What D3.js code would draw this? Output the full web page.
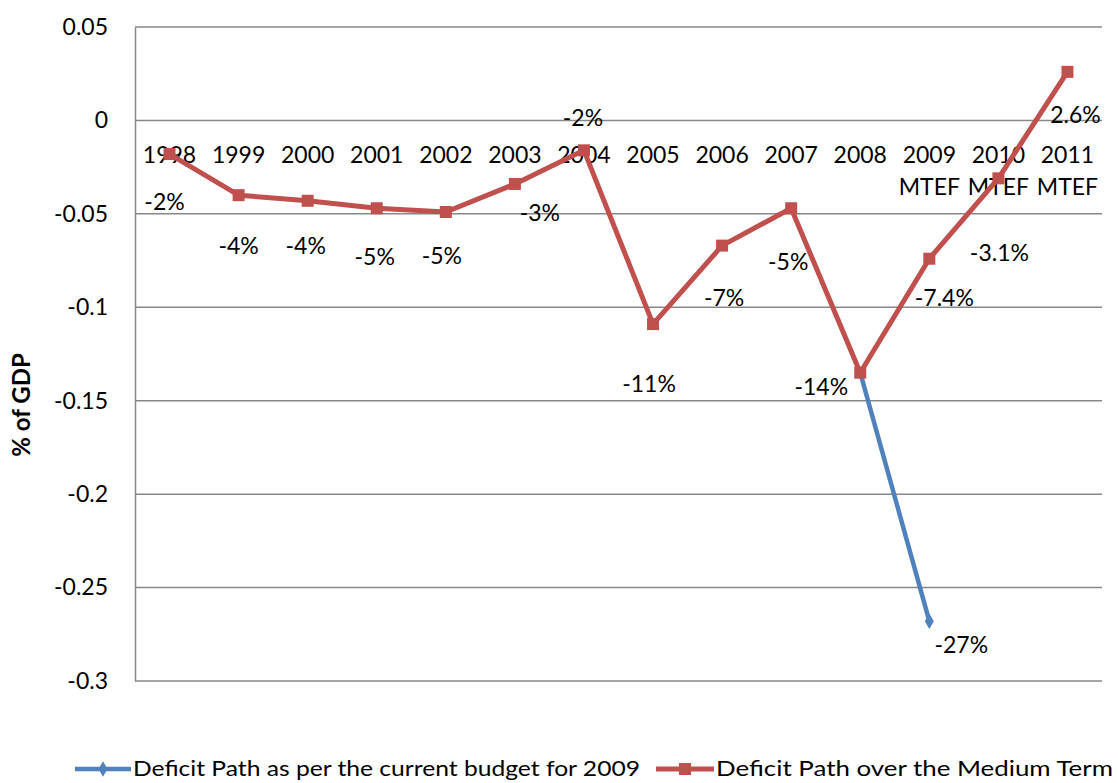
<!DOCTYPE html>
<html>
<head>
<meta charset="utf-8">
<script src="https://cdn.jsdelivr.net/npm/d3@7"></script>
<style>
  html, body { margin: 0; padding: 0; background: #fff; }
  svg { display: block; font-family: Lato, "Open Sans", sans-serif; }
</style>
</head>
<body>
<svg id="chart" width="1118" height="783"></svg>
<script>
// Fiscal deficit as a share of GDP
const years = ["1998","1999","2000","2001","2002","2003","2004","2005","2006","2007","2008","2009","2010","2011"];
const yearSublabels = ["","","","","","","","","","","","MTEF","MTEF","MTEF"];
const mediumTermValues = [-0.018,-0.040,-0.043,-0.047,-0.049,-0.034,-0.016,-0.109,-0.067,-0.047,-0.135,-0.074,-0.031,0.026];
const mediumTermLabels = ["-2%","-4%","-4%","-5%","-5%","-3%","-2%","-11%","-7%","-5%","-14%","-7.4%","-3.1%","2.6%"];
const budgetYears = ["2008","2009"];
const budgetValues = [-0.135,-0.268];
const budgetLabels = ["","-27%"];
const yTicks = [0.05,0,-0.05,-0.1,-0.15,-0.2,-0.25,-0.3];
const yTickLabels = ["0.05","0","-0.05","-0.1","-0.15","-0.2","-0.25","-0.3"];
const seriesNames = ["Deficit Path as per the current budget for 2009","Deficit Path over the Medium Term"];

// label nudges (dx, dy) relative to each point
const mediumTermLabelShift = [[-5,48],[0,51],[-2,45],[-2,49],[-4,44],[25,29],[-1,-32],[-4,60],[2,52],[-3,54],[-39,14],[15,39],[1,75],[8,43]];
const budgetLabelShift = [[0,0],[32,24]];

const RED = "#C0504D", BLUE = "#4F81BD", GRID = "#888888";
const FS = 23;
const svg = d3.select("#chart");
const plot = {left: 135, right: 1102, top: 27, bottom: 681};

const x = d3.scaleBand().domain(years).range([plot.left, plot.right]);
const y = d3.scaleLinear().domain([-0.3, 0.05]).range([plot.bottom, plot.top]);
const cx = d => x(d) + x.bandwidth() / 2;

// horizontal gridlines
svg.append("g").selectAll("line").data(yTicks).join("line")
  .attr("x1", plot.left).attr("x2", plot.right)
  .attr("y1", d => y(d)).attr("y2", d => y(d))
  .attr("stroke", GRID).attr("stroke-width", 1.5);

// value axis
const yAxis = svg.append("g").attr("transform", `translate(${plot.left},0)`)
  .call(d3.axisLeft(y).tickValues(yTicks).tickSize(0).tickPadding(27)
    .tickFormat((d, i) => yTickLabels[i]));
yAxis.select(".domain").attr("stroke", GRID).attr("stroke-width", 1.5);
yAxis.selectAll("text").attr("font-size", FS).attr("fill", "#000").attr("font-family", "Lato, sans-serif");

// category labels sit at the zero line
const cat = svg.append("g").selectAll("g").data(years).join("g");
cat.append("text").attr("x", d => cx(d)).attr("y", y(0) + 43)
  .attr("text-anchor", "middle").attr("font-size", FS).text(d => d);
cat.append("text").attr("x", d => cx(d)).attr("y", y(0) + 75)
  .attr("text-anchor", "middle").attr("font-size", FS).text((d, i) => yearSublabels[i]);

// axis title
svg.append("text").attr("transform", "translate(30,405) rotate(-90)")
  .attr("text-anchor", "middle").attr("font-size", 24).attr("font-weight", "bold")
  .text("% of GDP");

const line = d3.line().x(d => cx(d[0])).y(d => y(d[1]));

// medium term series
const mt = years.map((yr, i) => [yr, mediumTermValues[i]]);
svg.append("path").datum(mt).attr("d", line).attr("fill", "none")
  .attr("stroke", RED).attr("stroke-width", 5).attr("stroke-linejoin", "round");

// current budget series
const bd = budgetYears.map((yr, i) => [yr, budgetValues[i]]);
svg.append("path").datum(bd).attr("d", line).attr("fill", "none")
  .attr("stroke", BLUE).attr("stroke-width", 4.5);
svg.append("g").selectAll("path").data(bd.slice(1)).join("path")
  .attr("d", d3.symbol(d3.symbolDiamond, 70)())
  .attr("transform", d => `translate(${cx(d[0])},${y(d[1])})`).attr("fill", BLUE);

svg.append("g").selectAll("rect").data(mt).join("rect")
  .attr("x", d => cx(d[0]) - 6).attr("y", d => y(d[1]) - 6)
  .attr("width", 12).attr("height", 12).attr("fill", RED);

// data labels
svg.append("g").selectAll("text").data(mt).join("text")
  .attr("x", (d, i) => cx(d[0]) + mediumTermLabelShift[i][0])
  .attr("y", (d, i) => y(d[1]) + mediumTermLabelShift[i][1])
  .attr("dy", "0.35em").attr("text-anchor", "middle").attr("font-size", FS)
  .text((d, i) => mediumTermLabels[i]);
svg.append("g").selectAll("text").data(bd).join("text")
  .attr("x", (d, i) => cx(d[0]) + budgetLabelShift[i][0])
  .attr("y", (d, i) => y(d[1]) + budgetLabelShift[i][1])
  .attr("dy", "0.35em").attr("text-anchor", "middle").attr("font-size", FS)
  .text((d, i) => budgetLabels[i]);

// legend
const legend = svg.append("g").attr("transform", "translate(0,769)");
const lg1 = legend.append("g").attr("transform", "translate(75,0)");
lg1.append("line").attr("x1", 0).attr("x2", 56).attr("stroke", BLUE).attr("stroke-width", 4.5);
lg1.append("path").attr("d", d3.symbol(d3.symbolDiamond, 70)()).attr("transform", "translate(28,0)").attr("fill", BLUE);
lg1.append("text").attr("x", 58).attr("dy", "0.35em").attr("font-size", 21)
  .attr("textLength", 507).attr("lengthAdjust", "spacingAndGlyphs").text(seriesNames[0]);
const lg2 = legend.append("g").attr("transform", "translate(656,0)");
lg2.append("line").attr("x1", 0).attr("x2", 58).attr("stroke", RED).attr("stroke-width", 5);
lg2.append("rect").attr("x", 23).attr("y", -6).attr("width", 12).attr("height", 12).attr("fill", RED);
lg2.append("text").attr("x", 60).attr("dy", "0.35em").attr("font-size", 21)
  .attr("textLength", 397).attr("lengthAdjust", "spacingAndGlyphs").text(seriesNames[1]);
</script>
</body>
</html>
